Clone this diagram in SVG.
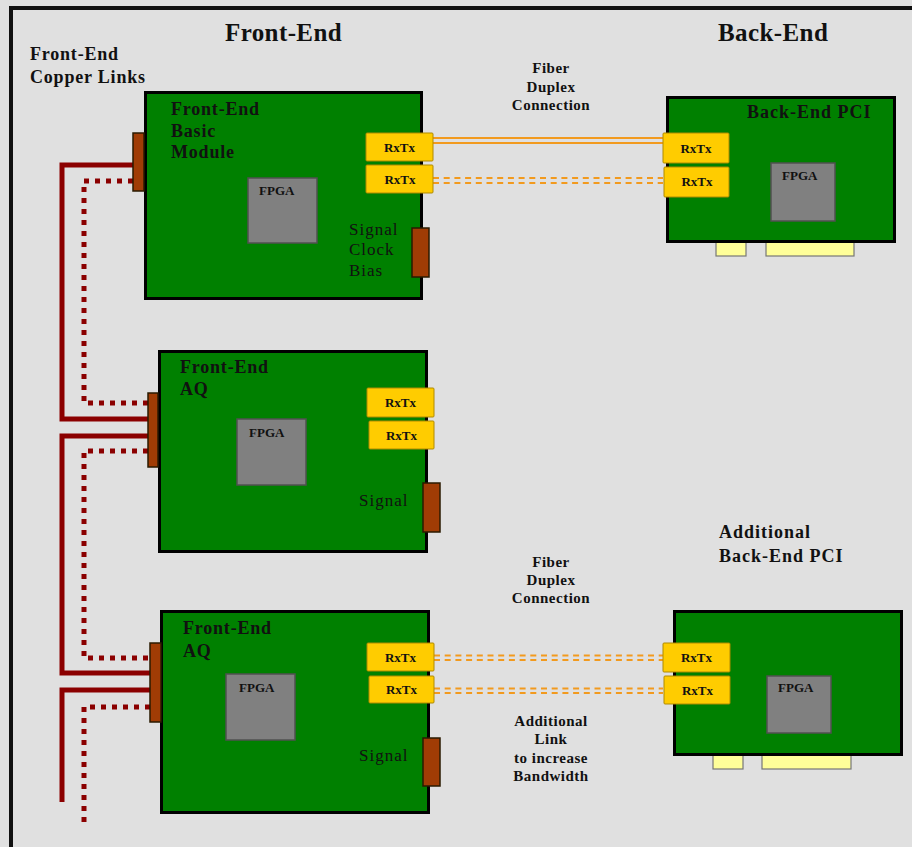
<svg xmlns="http://www.w3.org/2000/svg" width="912" height="847" viewBox="0 0 912 847">
<style>
text{font-family:"Liberation Serif","Times New Roman",serif;fill:#111;}
.title{font-size:25px;font-weight:bold;letter-spacing:0.4px;}
.lbl{font-size:18px;font-weight:bold;letter-spacing:0.8px;}
.pci{font-size:18px;font-weight:bold;letter-spacing:1px;}
.sig{font-size:17px;letter-spacing:1px;}
.fib{font-size:15px;font-weight:bold;letter-spacing:0.5px;text-anchor:middle;}
.rx{font-size:13px;font-weight:bold;text-anchor:middle;}
.fp{font-size:13px;font-weight:bold;}
.card{fill:#008000;stroke:#000;stroke-width:3;}
.fpga{fill:#808080;stroke:#505050;stroke-width:1.5;}
.rxb{fill:#ffcc00;stroke:#b08a00;stroke-width:1;}
.con{fill:#a03c05;stroke:#2a1a00;stroke-width:1.5;}
.fin{fill:#ffff99;stroke:#777;stroke-width:1.2;}
.cu{fill:none;stroke:#8b0000;stroke-width:5;}
.cud{fill:none;stroke:#8b0000;stroke-width:5;stroke-dasharray:5 6;}
.fo{fill:none;stroke:#f29a1e;stroke-width:2;}
.fod{fill:none;stroke:#f29a1e;stroke-width:2;stroke-dasharray:6 4.7;}
</style>
<rect x="0" y="0" width="912" height="847" fill="#e0e0e0"/>
<rect x="9" y="6" width="903" height="4" fill="#111"/>
<rect x="9" y="6" width="4" height="841" fill="#111"/>

<g id="labels">
<text class="title" x="225" y="41">Front-End</text>
<text class="title" x="718" y="41">Back-End</text>
<text class="lbl" x="30" y="60">Front-End</text>
<text class="lbl" x="30" y="83">Copper Links</text>
<text class="fib" x="551" y="73">Fiber</text>
<text class="fib" x="551" y="92">Duplex</text>
<text class="fib" x="551" y="110">Connection</text>
<text class="fib" x="551" y="567">Fiber</text>
<text class="fib" x="551" y="585">Duplex</text>
<text class="fib" x="551" y="603">Connection</text>
<text class="fib" x="551" y="726">Additional</text>
<text class="fib" x="551" y="744">Link</text>
<text class="fib" x="551" y="763">to increase</text>
<text class="fib" x="551" y="781">Bandwidth</text>
<text class="pci" x="719" y="538">Additional</text>
<text class="pci" x="719" y="562">Back-End PCI</text>
</g>

<g id="connectors">
<path class="cu" d="M133,165 H62 V419 H148"/>
<path class="cu" d="M148,436 H62 V673 H150"/>
<path class="cu" d="M150,690 H62 V802"/>
<path class="cud" d="M133,181 H84 V403 H148"/>
<path class="cud" d="M148,451 H84 V658 H150"/>
<path class="cud" d="M150,707 H84 V822"/>
<path class="fo" d="M433,138 H663 M433,143 H663"/>
<path class="fod" d="M433,178 H663 M433,183 H663"/>
<path class="fod" d="M434,655.5 H663 M434,660 H663"/>
<path class="fod" d="M434,688.5 H663 M434,693 H663"/>
</g>

<g id="fe-basic">
<rect class="card" x="145.5" y="92.5" width="276" height="206"/>
<rect class="fpga" x="248" y="178" width="69" height="65"/>
<text class="fp" x="259" y="195">FPGA</text>
<rect class="con" x="133" y="133" width="11" height="58"/>
<rect class="con" x="412" y="228" width="17" height="49"/>
<rect class="rxb" x="366" y="133" width="67" height="28" rx="1"/>
<text class="rx" x="399.5" y="152">RxTx</text>
<rect class="rxb" x="366" y="165" width="67" height="28" rx="1"/>
<text class="rx" x="400" y="184">RxTx</text>
<text class="lbl" x="171" y="115">Front-End</text>
<text class="lbl" x="171" y="137">Basic</text>
<text class="lbl" x="171" y="158">Module</text>
<text class="sig" x="349" y="235">Signal</text>
<text class="sig" x="349" y="255">Clock</text>
<text class="sig" x="349" y="276">Bias</text>
</g>

<g id="fe-aq1">
<rect class="card" x="159.5" y="351.5" width="267" height="200"/>
<rect class="fpga" x="237" y="419" width="69" height="66"/>
<text class="fp" x="249" y="437">FPGA</text>
<rect class="con" x="148" y="393" width="10" height="74"/>
<rect class="con" x="423" y="483" width="17" height="49"/>
<rect class="rxb" x="367" y="388" width="67" height="29" rx="1"/>
<text class="rx" x="400.5" y="407">RxTx</text>
<rect class="rxb" x="369" y="421" width="65" height="28" rx="1"/>
<text class="rx" x="401.5" y="440">RxTx</text>
<text class="lbl" x="180" y="373">Front-End</text>
<text class="lbl" x="180" y="395">AQ</text>
<text class="sig" x="359" y="506">Signal</text>
</g>

<g id="fe-aq2">
<rect class="card" x="161.5" y="611.5" width="267" height="201"/>
<rect class="fpga" x="226" y="674" width="69" height="66"/>
<text class="fp" x="239" y="692">FPGA</text>
<rect class="con" x="150" y="643" width="11" height="79"/>
<rect class="con" x="423" y="738" width="17" height="48"/>
<rect class="rxb" x="367" y="643" width="67" height="28" rx="1"/>
<text class="rx" x="400.5" y="662">RxTx</text>
<rect class="rxb" x="369" y="676" width="65" height="27" rx="1"/>
<text class="rx" x="401.5" y="694">RxTx</text>
<text class="lbl" x="183" y="634">Front-End</text>
<text class="lbl" x="183" y="657">AQ</text>
<text class="sig" x="359" y="761">Signal</text>
</g>

<g id="be-pci">
<rect class="fin" x="716" y="240" width="30" height="16"/>
<rect class="fin" x="766" y="240" width="88" height="16"/>
<rect class="card" x="667.5" y="97.5" width="227" height="144"/>
<rect class="fpga" x="771" y="163" width="64" height="58"/>
<text class="fp" x="782" y="180">FPGA</text>
<rect class="rxb" x="663" y="133" width="66" height="30" rx="1"/>
<text class="rx" x="696" y="153">RxTx</text>
<rect class="rxb" x="664" y="167" width="65" height="30" rx="1"/>
<text class="rx" x="697" y="186">RxTx</text>
<text class="pci" x="747" y="118">Back-End PCI</text>
</g>

<g id="be-pci-2">
<rect class="fin" x="713" y="753" width="30" height="16"/>
<rect class="fin" x="762" y="753" width="89" height="16"/>
<rect class="card" x="674.5" y="611.5" width="227" height="143"/>
<rect class="fpga" x="767" y="676" width="64" height="57"/>
<text class="fp" x="778" y="692">FPGA</text>
<rect class="rxb" x="663" y="643" width="67" height="29" rx="1"/>
<text class="rx" x="696.5" y="662">RxTx</text>
<rect class="rxb" x="664" y="676" width="66" height="28" rx="1"/>
<text class="rx" x="697.5" y="695">RxTx</text>
</g>
</svg>
